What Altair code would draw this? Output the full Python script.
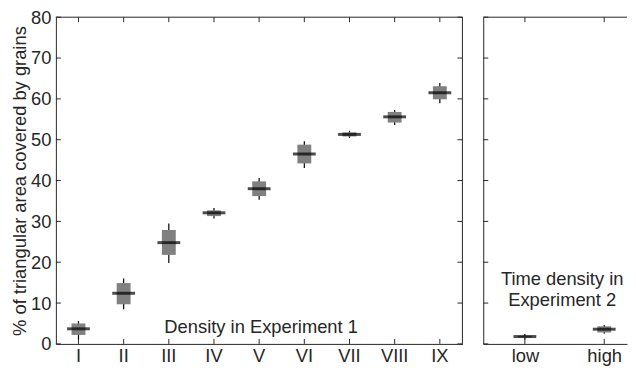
import altair as alt
import pandas as pd

# ---- data ----
cats1 = ["I", "II", "III", "IV", "V", "VI", "VII", "VIII", "IX"]
med1 = [3.7, 12.4, 24.8, 32.1, 38.0, 46.5, 51.3, 55.6, 61.5]
q1_1 = [2.2, 9.7, 21.8, 31.3, 36.2, 44.2, 50.8, 54.2, 59.9]
q3_1 = [5.0, 14.9, 27.9, 32.7, 39.8, 48.8, 51.8, 56.8, 63.1]
lo1 = [1.0, 8.5, 19.8, 30.7, 35.3, 43.1, 50.4, 53.6, 58.9]
hi1 = [5.6, 16.0, 29.5, 33.3, 40.6, 49.6, 52.2, 57.3, 63.9]

cats2 = ["low", "high"]
med2 = [1.8, 3.6]
q1_2 = [1.6, 2.8]
q3_2 = [2.0, 4.3]
lo2 = [1.1, 2.5]
hi2 = [2.4, 4.6]

y_ticks = [0, 10, 20, 30, 40, 50, 60, 70, 80]

note1 = ["Density in Experiment 1"]
note2 = ["Time density in", "Experiment 2"]

# ---- layout / style ----
W1, W2, H = 410, 145, 329.5
FONT = "Liberation Sans"
FS = 18.5
INK = "#262626"
BOX = "#808080"

df1 = pd.DataFrame({"cat": cats1, "med": med1, "q1": q1_1, "q3": q3_1, "lo": lo1, "hi": hi1})
df2 = pd.DataFrame({"cat": cats2, "pos": [i + 1 for i in range(len(cats2))],
                    "med": med2, "q1": q1_2, "q3": q3_2, "lo": lo2, "hi": hi2})
dft = pd.DataFrame({"t": y_ticks})
one = pd.DataFrame({"a": [0]})

yscale = alt.Scale(domain=[0, 80], nice=False, zero=False)
yaxis1 = alt.Axis(title="% of triangular area covered by grains", values=y_ticks, ticks=False,
                  grid=False, domain=True, labelPadding=5, titlePadding=0.6)
yaxis2 = alt.Axis(title=None, labels=False, ticks=False, grid=False, domain=True)


def Y(field, axis):
    return alt.Y(field, type="quantitative", scale=yscale, axis=axis)


# ---- left panel ----
xaxis1 = alt.Axis(title=None, ticks=False, grid=False, domain=True, labelAngle=0, labelPadding=2.5)
xscale1 = alt.Scale(paddingInner=0, paddingOuter=0)


def X1():
    return alt.X("cat:N", sort=cats1, scale=xscale1, axis=xaxis1)


base1 = alt.Chart(df1)
whisk1 = base1.mark_rule(color="#000000", strokeWidth=1.2).encode(x=X1(), y=Y("lo", yaxis1), y2="hi")
box1 = base1.mark_rule(color=BOX, strokeWidth=14, strokeCap="butt").encode(x=X1(), y=Y("q1", yaxis1), y2="q3")
med1m = base1.mark_tick(color="#000000", size=23, thickness=3, orient="horizontal").encode(x=X1(), y=Y("med", yaxis1))
xt_bot1 = base1.mark_rule(color=INK).encode(x=X1(), y=alt.value(H), y2=alt.value(H - 5))
xt_top1 = base1.mark_rule(color=INK).encode(x=X1(), y=alt.value(0), y2=alt.value(5))
yt_l1 = alt.Chart(dft).mark_rule(color=INK).encode(y=Y("t", yaxis1), x=alt.value(0), x2=alt.value(5))
yt_r1 = alt.Chart(dft).mark_rule(color=INK).encode(y=Y("t", yaxis1), x=alt.value(W1 - 5), x2=alt.value(W1))
top1 = alt.Chart(one).mark_rule(color=INK).encode(x=alt.value(0), x2=alt.value(W1), y=alt.value(0))
right1 = alt.Chart(one).mark_rule(color=INK).encode(x=alt.value(W1), y=alt.value(0), y2=alt.value(H))
txt1 = alt.Chart(pd.DataFrame({"label": note1, "cat": ["V"], "y": [2.7]})).mark_text(
    font=FONT, fontSize=FS, color=INK, align="center", baseline="alphabetic", dx=2
).encode(x=X1(), y=Y("y", yaxis1), text="label:N")

left = alt.layer(whisk1, box1, med1m, xt_bot1, xt_top1, yt_l1, yt_r1, top1, right1, txt1).properties(
    width=W1, height=H)

# ---- right panel ----
xscale2 = alt.Scale(domain=[0.475, 0.475 + W2 / 80.0], nice=False, zero=False)
label_expr = "datum.value == 1 ? '%s' : '%s'" % (cats2[0], cats2[1])
xaxis2 = alt.Axis(title=None, ticks=False, grid=False, domain=True, values=[1, 2], labelExpr=label_expr,
                  labelPadding=2.5, labelFlush=False, labelOverlap=False)


def X2(field="pos"):
    return alt.X(field, type="quantitative", scale=xscale2, axis=xaxis2)


base2 = alt.Chart(df2)
whisk2 = base2.mark_rule(color="#000000", strokeWidth=1.2).encode(x=X2(), y=Y("lo", yaxis2), y2="hi")
box2 = base2.mark_rule(color=BOX, strokeWidth=14, strokeCap="butt").encode(x=X2(), y=Y("q1", yaxis2), y2="q3")
med2m = base2.mark_tick(color="#000000", size=23, thickness=3, orient="horizontal").encode(x=X2(), y=Y("med", yaxis2))
xt_bot2 = base2.mark_rule(color=INK).encode(x=X2(), y=alt.value(H), y2=alt.value(H - 5))
xt_top2 = base2.mark_rule(color=INK).encode(x=X2(), y=alt.value(0), y2=alt.value(5))
yt_l2 = alt.Chart(dft).mark_rule(color=INK).encode(y=Y("t", yaxis2), x=alt.value(0), x2=alt.value(5))
top2 = alt.Chart(one).mark_rule(color=INK).encode(x=alt.value(0), x2=alt.value(W2), y=alt.value(0))
txt2 = alt.Chart(pd.DataFrame({"label": note2, "x": [1.47, 1.47], "y": [14.45, 9.3]})).mark_text(
    font=FONT, fontSize=FS, color=INK, align="center", baseline="alphabetic"
).encode(x=X2("x"), y=Y("y", yaxis2), text="label:N")

right = alt.layer(whisk2, box2, med2m, xt_bot2, xt_top2, yt_l2, top2, txt2).properties(width=W2, height=H)

chart = alt.hconcat(left, right, spacing=19).properties(
    padding={"left": 2.3, "top": -1.25, "right": 0, "bottom": -0.5}
).configure_view(stroke=None).configure_axis(
    labelFont=FONT, titleFont=FONT, labelFontSize=FS, titleFontSize=FS, labelColor=INK, titleColor=INK,
    titleFontWeight="normal", domainColor=INK, domainWidth=1
)

chart.save("out.html", embed_options={"renderer": "svg", "actions": False})
